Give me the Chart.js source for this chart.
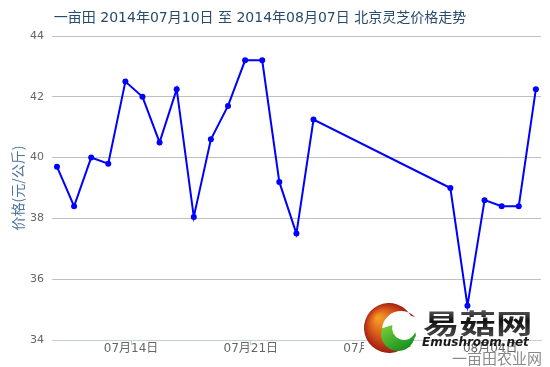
<!DOCTYPE html>
<html>
<head>
<meta charset="utf-8">
<script src="https://cdn.jsdelivr.net/npm/chart.js@4"></script>
<style>
  html, body { margin: 0; padding: 0; background: #fff; }
  #wrap { width: 550px; height: 367px; }
</style>
</head>
<body>
<div id="wrap"><canvas id="grafica"></canvas></div>
<script>
// fechas y precios
var fechas = ['2014-07-10','2014-07-11','2014-07-12','2014-07-13','2014-07-14','2014-07-15',
    '2014-07-16','2014-07-17','2014-07-18','2014-07-19','2014-07-20','2014-07-21',
    '2014-07-22','2014-07-23','2014-07-24','2014-07-25','2014-08-02','2014-08-03',
    '2014-08-04','2014-08-05','2014-08-06','2014-08-07'];
var precios = [39.7, 38.4, 40.0, 39.8, 42.5, 42.0, 40.5, 42.25, 38.05, 40.6, 41.7, 43.2,
    43.2, 39.2, 37.5, 41.25, 39.0, 35.13, 38.6, 38.4, 38.4, 42.25];
var etiquetas = ['07月14日', '07月21日', '07月28日', '08月04日'];
var fechasEtiquetas = ['2014-07-14', '2014-07-21', '2014-07-28', '2014-08-04'];
var titulo = '一亩田 2014年07月10日 至 2014年08月07日 北京灵芝价格走势';
var tituloEje = '价格(元/公斤)';

var fuente = "'DejaVu Sans', 'Noto Sans CJK SC', sans-serif";
var dia = 86400000;
var inicio = Date.parse(fechas[0]);
function diaDe(f){ return (Date.parse(f) - inicio) / dia; }
// los puntos van 8 horas antes de la medianoche UTC de las marcas
var posTicks = fechasEtiquetas.map(f => diaDe(f) + 1/3);

var puntos = fechas.map((f, i) => ({x: diaDe(f), y: precios[i]}));

function rad(g){ return g * Math.PI / 180; }

var marca = {
    id: 'marca',
    afterDraw(chart){
        var c = chart.ctx;
        c.save();
        c.textBaseline = 'alphabetic';
        c.fillStyle = '#274b6d';
        c.font = "14px " + fuente;
        c.textAlign = 'center';
        c.fillText(titulo, 260, 22);
        // fondo del logo
        c.fillStyle = '#fff';
        c.fillRect(364, 341, 56, 14);
        // media luna naranja
        c.beginPath();
        c.arc(389, 328, 25, rad(42), rad(330));
        c.arc(401, 330, 19, rad(318), rad(58), true);
        c.closePath();
        var g = c.createRadialGradient(378, 318, 2, 389, 328, 26);
        g.addColorStop(0, '#f29a24');
        g.addColorStop(0.55, '#d4501a');
        g.addColorStop(1, '#9a1a10');
        c.fillStyle = g;
        c.fill();
        // media luna verde
        c.beginPath();
        c.arc(398, 334, 17, rad(200), rad(12), true);
        c.lineTo(416, 336);
        c.arc(404, 328, 12, rad(20), rad(195));
        c.closePath();
        var v = c.createLinearGradient(385, 318, 405, 352);
        v.addColorStop(0, '#8fd640');
        v.addColorStop(1, '#0d8f1c');
        c.fillStyle = v;
        c.fill();
        // texto del logo
        c.textAlign = 'left';
        c.save();
        c.translate(423, 334);
        c.scale(1.35, 1);
        var t = c.createLinearGradient(0, -26, 0, 0);
        t.addColorStop(0, '#666');
        t.addColorStop(0.5, '#111');
        t.addColorStop(1, '#444');
        c.fillStyle = t;
        c.font = "bold 27px 'Noto Sans CJK SC', sans-serif";
        c.fillText('易菇网', 0, 0);
        c.restore();
        c.fillStyle = '#1a1a1a';
        c.font = "italic bold 12px 'DejaVu Sans', sans-serif";
        c.fillText('Emushroom.net', 422, 346);
        c.fillStyle = '#8a8a8a';
        c.font = "15px 'Noto Sans CJK SC', sans-serif";
        c.fillText('一亩田农业网', 452, 364);
        c.restore();
    }
};

new Chart(document.getElementById('grafica'), {
    type: 'line',
    data: {
        datasets: [{
            label: '价格',
            data: puntos,
            borderColor: '#0000ff',
            backgroundColor: '#0000ff',
            borderWidth: 2,
            pointRadius: 3,
            pointBorderWidth: 0,
            pointHoverRadius: 3,
            tension: 0
        }]
    },
    options: {
        responsive: true,
        maintainAspectRatio: false,
        animation: false,
        layout: { padding: { left: 0, right: 9, top: 36, bottom: 0 } },
        plugins: { legend: { display: false }, title: { display: false }, tooltip: { enabled: false } },
        scales: {
            x: {
                type: 'linear',
                min: -0.29,
                max: 28.3,
                afterBuildTicks: s => { s.ticks = posTicks.map(v => ({value: v})); },
                afterFit: s => { s.height = 27; },
                border: { display: true, color: '#c0d0e0', width: 1 },
                grid: { drawOnChartArea: false, drawTicks: true, tickLength: 5, color: '#c0d0e0' },
                ticks: {
                    autoSkip: false,
                    maxRotation: 0,
                    padding: -3,
                    color: '#666',
                    font: { family: fuente, size: 12 },
                    callback: (v, i) => etiquetas[i]
                }
            },
            y: {
                min: 34,
                max: 44,
                afterFit: s => { s.width = 52; },
                border: { display: false },
                grid: { color: '#c0c0c0', drawTicks: false },
                ticks: { stepSize: 2, padding: 8, color: '#666', font: { family: fuente, size: 11 } },
                title: {
                    display: true,
                    text: tituloEje,
                    color: '#4d759e',
                    padding: { top: 9, bottom: 0 },
                    font: { family: "'Noto Sans CJK SC', sans-serif", size: 14 }
                }
            }
        }
    },
    plugins: [marca]
});
</script>
</body>
</html>
